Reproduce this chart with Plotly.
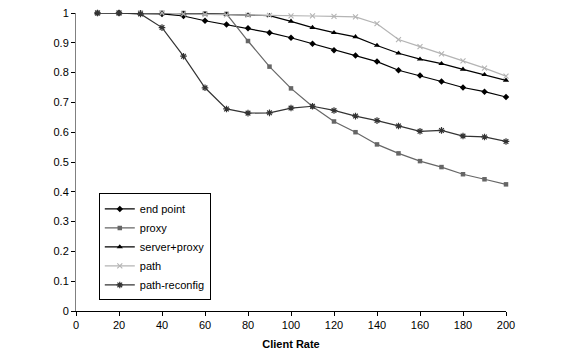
import plotly.graph_objects as go

client_rate = [10, 20, 30, 40, 50, 60, 70, 80, 90, 100, 110, 120, 130, 140, 150, 160, 170, 180, 190, 200]

end_point = [1.0, 1.0, 0.998, 0.997, 0.99, 0.974, 0.961, 0.949, 0.934, 0.917, 0.897, 0.875, 0.857, 0.837,
             0.808, 0.790, 0.770, 0.750, 0.736, 0.718]
proxy = [1.0, 1.0, 1.0, 1.0, 1.0, 0.998, 0.997, 0.906, 0.82, 0.747, 0.686, 0.636, 0.600, 0.559,
         0.529, 0.503, 0.483, 0.459, 0.442, 0.425]
server_proxy = [1.0, 1.0, 1.0, 1.0, 0.998, 0.997, 0.995, 0.993, 0.991, 0.972, 0.951, 0.934, 0.920, 0.891,
                0.865, 0.845, 0.830, 0.811, 0.793, 0.774]
path = [1.0, 1.0, 1.0, 1.0, 0.997, 0.995, 0.994, 0.993, 0.992, 0.990, 0.990, 0.989, 0.987, 0.964,
        0.911, 0.887, 0.863, 0.839, 0.815, 0.788]
path_reconfig = [1.0, 1.0, 0.997, 0.951, 0.855, 0.749, 0.678, 0.664, 0.665, 0.681, 0.687, 0.673, 0.654, 0.639,
                 0.621, 0.603, 0.606, 0.587, 0.584, 0.569]

y_ticks = [0, 0.1, 0.2, 0.3, 0.4, 0.5, 0.6, 0.7, 0.8, 0.9, 1]
y_tick_text = ["0", "0.1", "0.2", "0.3", "0.4", "0.5", "0.6", "0.7", "0.8", "0.9", "1"]
x_ticks = [0, 20, 40, 60, 80, 100, 120, 140, 160, 180, 200]

FONT = "Liberation Sans, Arial, sans-serif"

fig = go.Figure()

series = [
    ("end point", end_point, "#000000", dict(symbol="diamond", size=5, color="#000000")),
    ("proxy", proxy, "#666666", dict(symbol="square", size=4.5, color="#666666")),
    ("server+proxy", server_proxy, "#000000", dict(symbol="triangle-up", size=5.5, color="#000000")),
    ("path", path, "#b4b4b4", dict(symbol="x-thin-open", size=5, color="#b4b4b4",
                                   line=dict(width=1.1, color="#b4b4b4"))),
    ("path-reconfig", path_reconfig, "#333333", dict(symbol="asterisk-open", size=5.5, color="#333333",
                                                     line=dict(width=1.2, color="#333333"))),
]

for name, ys, col, mk in series:
    fig.add_trace(go.Scatter(
        x=client_rate, y=ys, name=name, mode="lines+markers",
        line=dict(color=col, width=1.2), marker=mk, cliponaxis=False,
    ))

fig.update_layout(
    width=579, height=352,
    margin=dict(l=68, r=81, t=5, b=49, autoexpand=False),
    paper_bgcolor="white", plot_bgcolor="white",
    font=dict(family=FONT, size=11, color="#000000"),
    showlegend=True,
    legend=dict(
        x=0.053, y=0.215, xanchor="left", yanchor="middle",
        bordercolor="#000000", borderwidth=1, bgcolor="white",
        font=dict(family=FONT, size=11, color="#000000"),
        itemwidth=30,
    ),
    xaxis=dict(
        range=[0, 200], tickvals=x_ticks, showgrid=False, zeroline=False,
        showline=True, linecolor="#000000", linewidth=1, automargin=False,
        ticks="outside", ticklen=4, tickcolor="#000000",
        tickfont=dict(family=FONT, size=11), ticklabeloverflow="allow",
        title=dict(text="<b>Client Rate</b>", font=dict(family=FONT, size=11), standoff=10),
    ),
    yaxis=dict(
        range=[0, 1], tickvals=y_ticks, ticktext=y_tick_text, showgrid=False, zeroline=False,
        showline=True, linecolor="#808080", linewidth=1, automargin=False,
        ticks="outside", ticklen=4, tickcolor="#000000",
        tickfont=dict(family=FONT, size=11), ticklabeloverflow="allow",
    ),
)

fig.write_html("out.html")
